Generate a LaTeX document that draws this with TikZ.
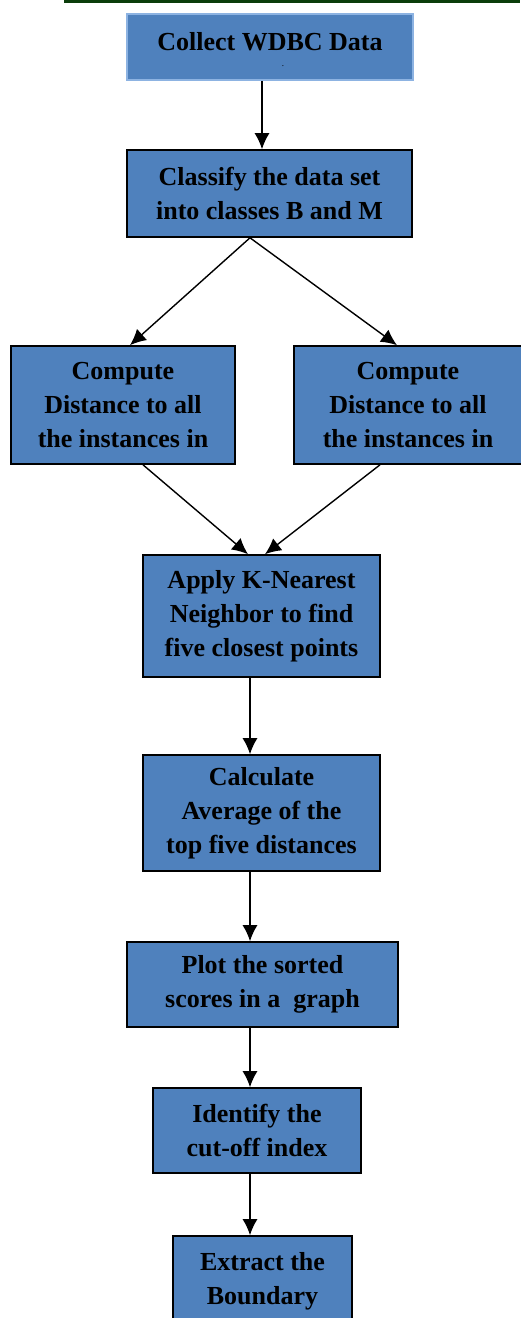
\documentclass[tikz,border=0pt]{standalone}
\usepackage{fontspec}
\setmainfont{Liberation Serif}
\usetikzlibrary{arrows.meta}
\definecolor{boxblue}{HTML}{4F81BD}
\definecolor{rimblue}{HTML}{8DB3E2}
\definecolor{rulegreen}{HTML}{0B3D0B}
\tikzset{
  procbox/.style={draw=black, line width=1.6pt, fill=boxblue, align=center,
    inner sep=0pt, font=\bfseries\fontsize{26}{34}\selectfont},
  flow/.style={line width=1.4pt, -{Latex[length=16pt, width=15pt]}}
}
\begin{document}
\begin{tikzpicture}[x=1pt, y=-1pt]
            \useasboundingbox (0,0) rectangle (520,1318);
            \draw[rulegreen, line width=3pt] (64,1)--(520,1);
            % boxes
            \node[procbox, draw=rimblue, minimum width=286, minimum height=66] (collect) at (270,47) {};
            \node[font=\bfseries\fontsize{26}{34}\selectfont] (collecttext) at (270,42) {Collect WDBC Data};
            \node[font=\small, inner sep=0pt] (dot) at (283,66) {.};
            \node[procbox, minimum width=285, minimum height=87] (classify) at (269.5,193.5) {Classify the data set\\into classes B and M};
            \node[procbox, minimum width=224, minimum height=118] (distB) at (123,405) {Compute\\Distance to all\\the instances in};
            \node[procbox, minimum width=228, minimum height=118] (distM) at (408,405) {Compute\\Distance to all\\the instances in};
            \node[procbox, minimum width=237, minimum height=122] (knn) at (261.5,616) {Apply K-Nearest\\Neighbor to find\\five closest points};
            \node[procbox, minimum width=237, minimum height=116] (average) at (261.5,813) {Calculate\\Average of the\\top five distances};
            \node[procbox, minimum width=271, minimum height=85] (plot) at (262.5,984.5) {Plot the sorted\\scores in a~ graph};
            \node[procbox, minimum width=208, minimum height=85] (cutoff) at (257,1130.5) {Identify the\\cut-off index};
            \node[procbox, minimum width=179, minimum height=90] (boundary) at (262.5,1281) {Extract the\\Boundary};
            % arrows
            \draw[flow] ([xshift=-8pt]collect.south) -- ([xshift=-7.5pt]classify.north);
            \draw[flow] ([xshift=-19.5pt]classify.south) -- ([xshift=7pt]distB.north);
            \draw[flow] ([xshift=-19.5pt]classify.south) -- ([xshift=-11pt]distM.north);
            \draw[flow] ([xshift=20pt]distB.south) -- ([xshift=-13.5pt]knn.north);
            \draw[flow] ([xshift=-28pt]distM.south) -- ([xshift=3.5pt]knn.north);
            \draw[flow] ([xshift=-11.5pt]knn.south) -- ([xshift=-11.5pt]average.north);
            \draw[flow] ([xshift=-11.5pt]average.south) -- ([xshift=-12.5pt]plot.north);
            \draw[flow] ([xshift=-12.5pt]plot.south) -- ([xshift=-7pt]cutoff.north);
            \draw[flow] ([xshift=-7pt]cutoff.south) -- ([xshift=-12.5pt]boundary.north);
\end{tikzpicture}
\end{document}
